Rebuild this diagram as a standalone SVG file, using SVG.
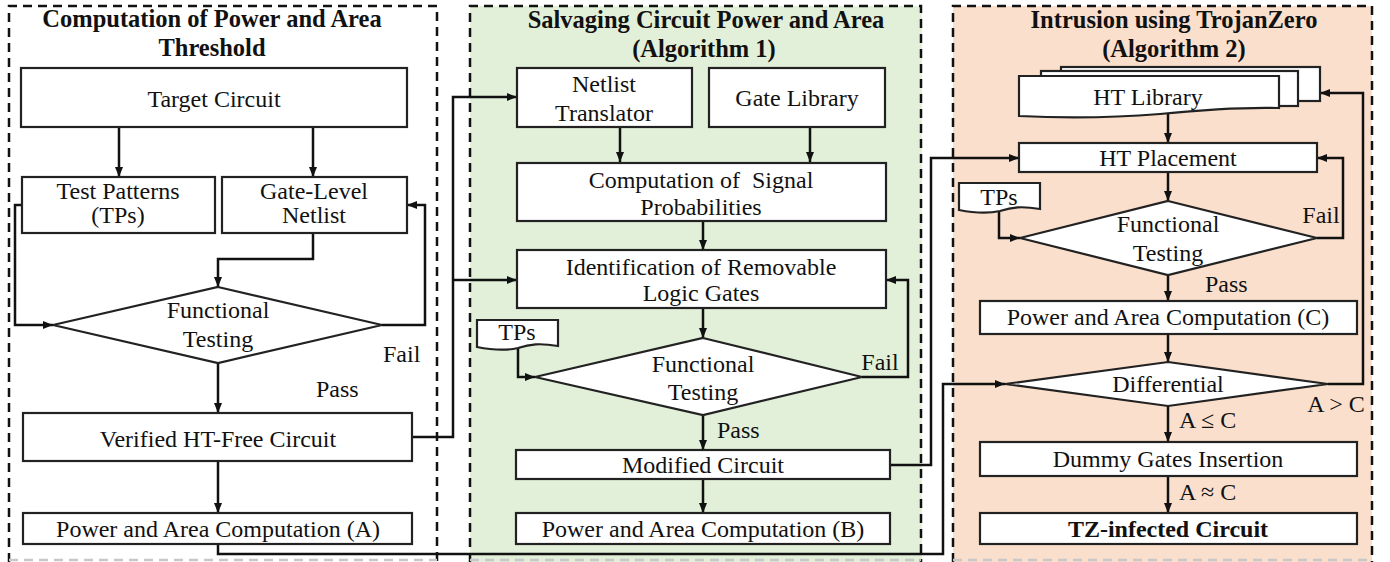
<svg xmlns="http://www.w3.org/2000/svg" width="1390" height="562" viewBox="0 0 1390 562">
<style>
text{font-family:'Liberation Serif','Times New Roman',serif;font-size:24px;fill:#111}
.t{font-weight:bold;text-anchor:middle;font-size:24.5px}
.c{text-anchor:middle}
.b{font-weight:bold}
.box{fill:#fff;stroke:#222;stroke-width:2.2}
.dash{fill:none;stroke:#111;stroke-width:2.5;stroke-dasharray:9 6}
.dashb{fill:none;stroke:#c8c8c8;stroke-width:2.5;stroke-dasharray:9 6}
.ar{fill:none;stroke:#111;stroke-width:2.5;marker-end:url(#ah)}
</style>
<defs>
<marker id="ah" viewBox="0 0 10 10" refX="10" refY="5" markerWidth="10" markerHeight="10" markerUnits="userSpaceOnUse" orient="auto"><path d="M0,1 L10,5 L0,9 z" fill="#111"/></marker>
</defs>
<rect width="1390" height="562" fill="#fff"/>
<g id="panel1">
<path class="dash" d="M9,562 V6 H437 V562"/>
<path class="dashb" d="M9,560 H437"/>
<text class="t" x="212" y="27">Computation of Power and Area</text>
<text class="t" x="212" y="56">Threshold</text>
</g>
<g id="panel2">
<rect x="470" y="6" width="452" height="556" fill="#e2efd9"/>
<path class="dash" d="M470,562 V6 H921 V562"/>
<path class="dashb" d="M470,560 H921"/>
<text class="t" x="706" y="28">Salvaging Circuit Power and Area</text>
<text class="t" x="704" y="57">(Algorithm 1)</text>
</g>
<g id="panel3">
<rect x="953" y="6" width="419" height="556" fill="#fadfcc"/>
<path class="dash" d="M953,562 V6 H1372 V562"/>
<path class="dashb" d="M953,560 H1372"/>
<text class="t" x="1174" y="28">Intrusion using TrojanZero</text>
<text class="t" x="1174" y="57">(Algorithm 2)</text>
</g>

<g id="connectors">
<path class="ar" d="M119,127 V177"/>
<path class="ar" d="M313,127 V177"/>
<path class="ar" d="M313,233 V259 H218 V287"/>
<path class="ar" d="M22,205 H15 V325 H53"/>
<path class="ar" d="M382,325 H425 V205 H407"/>
<path class="ar" d="M218,363 V413"/>
<path class="ar" d="M218,461 V513"/>
<path class="ar" d="M412,437 H453 V97 H517"/>
<path class="ar" d="M453,280 H517"/>
<path class="ar" d="M218,544 V554 H943 V384 H1005"/>
<path class="ar" d="M620,127 V162"/>
<path class="ar" d="M810,127 V162"/>
<path class="ar" d="M703,221 V250"/>
<path class="ar" d="M703,308 V338"/>
<path class="ar" d="M518,348 V377 H535"/>
<path class="ar" d="M862,377 H908 V280 H886"/>
<path class="ar" d="M703,415 V450"/>
<path class="ar" d="M703,479 V513"/>
<path class="ar" d="M890,465 H931 V158 H1019"/>
<path class="ar" d="M1168,114 V143"/>
<path class="ar" d="M1168,172 V201"/>
<path class="ar" d="M999,211 V238 H1020"/>
<path class="ar" d="M1317,238 H1343 V158 H1317"/>
<path class="ar" d="M1168,275 V301"/>
<path class="ar" d="M1168,334 V362"/>
<path class="ar" d="M1328,384 H1363 V93 H1320"/>
<path class="ar" d="M1168,406 V442"/>
<path class="ar" d="M1168,476 V513"/>
<text x="383" y="362">Fail</text>
<text x="316" y="397">Pass</text>
<text class="c" x="880" y="370">Fail</text>
<text x="717" y="438">Pass</text>
<text class="c" x="1321" y="223">Fail</text>
<text x="1205" y="292">Pass</text>
<text class="c" x="1336" y="412">A &gt; C</text>
<text x="1179" y="428">A ≤ C</text>
<text x="1179" y="500">A ≈ C</text>
</g>

<g id="target-circuit">
<rect class="box" x="21" y="68" width="386" height="59"/>
<text class="c" x="214" y="107">Target Circuit</text>
</g>
<g id="test-patterns">
<rect class="box" x="22" y="177" width="193" height="56"/>
<text class="c" x="118" y="199">Test Patterns</text>
<text class="c" x="118" y="223">(TPs)</text>
</g>
<g id="gate-level-netlist">
<rect class="box" x="222" y="177" width="185" height="56"/>
<text class="c" x="314" y="199">Gate-Level</text>
<text class="c" x="314" y="223">Netlist</text>
</g>
<g id="functional-testing-1">
<path class="box" d="M218,287 L382,325 L218,363 L53,325 Z"/>
<text class="c" x="218" y="318">Functional</text>
<text class="c" x="218" y="347">Testing</text>
</g>
<g id="verified-ht-free">
<rect class="box" x="23" y="413" width="389" height="48"/>
<text class="c" x="218" y="447">Verified HT-Free Circuit</text>
</g>
<g id="power-area-a">
<rect class="box" x="23" y="513" width="389" height="31"/>
<text class="c" x="218" y="537">Power and Area Computation (A)</text>
</g>

<g id="netlist-translator">
<rect class="box" x="517" y="68" width="175" height="59"/>
<text class="c" x="604" y="92">Netlist</text>
<text class="c" x="604" y="121">Translator</text>
</g>
<g id="gate-library">
<rect class="box" x="709" y="68" width="176" height="59"/>
<text class="c" x="797" y="106">Gate Library</text>
</g>
<g id="signal-probabilities">
<rect class="box" x="517" y="163" width="369" height="58"/>
<text class="c" x="701" y="188" xml:space="preserve">Computation of  Signal</text>
<text class="c" x="701" y="215">Probabilities</text>
</g>
<g id="removable-gates">
<rect class="box" x="517" y="250" width="369" height="58"/>
<text class="c" x="701" y="275">Identification of Removable</text>
<text class="c" x="701" y="301">Logic Gates</text>
</g>
<g id="tps-2">
<path class="box" d="M477,320 H558 V346 C540,343 530,344 518,348 C505,351 492,350 477,347 Z"/>
<text class="c" x="517" y="340">TPs</text>
</g>
<g id="functional-testing-2">
<path class="box" d="M703,338 L862,377 L703,415 L535,377 Z"/>
<text class="c" x="703" y="372">Functional</text>
<text class="c" x="703" y="400">Testing</text>
</g>
<g id="modified-circuit">
<rect class="box" x="516" y="450" width="374" height="29"/>
<text class="c" x="703" y="473">Modified Circuit</text>
</g>
<g id="power-area-b">
<rect class="box" x="516" y="513" width="374" height="31"/>
<text class="c" x="703" y="537">Power and Area Computation (B)</text>
</g>

<g id="ht-library">
<rect class="box" x="1061" y="67" width="259" height="34"/>
<rect class="box" x="1041" y="71" width="257" height="35"/>
<path class="box" d="M1019,76 H1279 V108 C1240,107 1200,110 1160,114 C1110,118 1060,118 1019,116 Z"/>
<text class="c" x="1148" y="105">HT Library</text>
</g>
<g id="ht-placement">
<rect class="box" x="1019" y="143" width="298" height="29"/>
<text class="c" x="1168" y="166">HT Placement</text>
</g>
<g id="tps-3">
<path class="box" d="M959,183 H1040 V209 C1022,206 1012,207 1000,211 C987,214 974,213 959,210 Z"/>
<text class="c" x="999" y="205">TPs</text>
</g>
<g id="functional-testing-3">
<path class="box" d="M1168,201 L1317,238 L1168,275 L1020,238 Z"/>
<text class="c" x="1168" y="232">Functional</text>
<text class="c" x="1168" y="261">Testing</text>
</g>
<g id="power-area-c">
<rect class="box" x="980" y="301" width="377" height="33"/>
<text class="c" x="1168" y="325">Power and Area Computation (C)</text>
</g>
<g id="differential">
<path class="box" d="M1168,362 L1328,384 L1168,406 L1005,384 Z"/>
<text class="c" x="1168" y="392">Differential</text>
</g>
<g id="dummy-gates">
<rect class="box" x="980" y="442" width="377" height="34"/>
<text class="c" x="1168" y="467">Dummy Gates Insertion</text>
</g>
<g id="tz-infected">
<rect class="box" x="980" y="513" width="377" height="31"/>
<text class="c b" x="1168" y="537">TZ-infected Circuit</text>
</g>
</svg>
